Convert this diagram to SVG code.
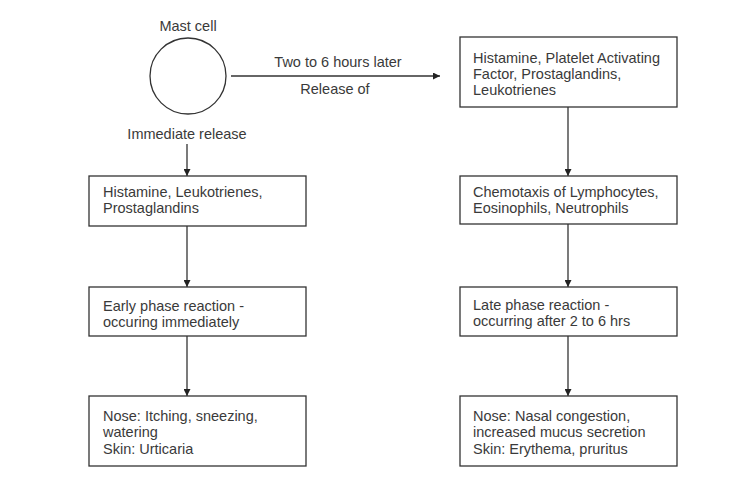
<svg xmlns="http://www.w3.org/2000/svg" width="745" height="493" viewBox="0 0 745 493">
<defs>
<style>
text{font-family:"Liberation Sans",Arial,sans-serif;font-size:14.5px;fill:#3a3a3a}
.c{text-anchor:middle}
.box{fill:#fff;stroke:#333;stroke-width:1.3}
.ln{stroke:#333;stroke-width:1.3;fill:none}
</style>
<marker id="ah" viewBox="0 0 10 10" refX="10" refY="5" markerWidth="7" markerHeight="7" markerUnits="userSpaceOnUse" orient="auto"><path d="M0,0 L10,5 L0,10 Z" fill="#222"/></marker>
</defs>
<rect width="745" height="493" fill="#fff"/>
<g id="connectors">
<line class="ln" x1="231" y1="76" x2="440" y2="76" marker-end="url(#ah)"/>
<line class="ln" x1="187" y1="144" x2="187" y2="176" marker-end="url(#ah)"/>
<line class="ln" x1="187" y1="226" x2="187" y2="287" marker-end="url(#ah)"/>
<line class="ln" x1="187" y1="336" x2="187" y2="396" marker-end="url(#ah)"/>
<line class="ln" x1="568" y1="107" x2="568" y2="176" marker-end="url(#ah)"/>
<line class="ln" x1="568" y1="224" x2="568" y2="287" marker-end="url(#ah)"/>
<line class="ln" x1="568" y1="336" x2="568" y2="396" marker-end="url(#ah)"/>
<text class="c" x="338" y="67">Two to 6 hours later</text>
<text class="c" x="335" y="94">Release of</text>
<text class="c" x="187" y="139">Immediate release</text>
</g>
<g id="mast-cell">
<text class="c" x="188" y="31">Mast cell</text>
<circle class="ln" cx="188" cy="76" r="38"/>
</g>
<g id="left-1">
<rect class="box" x="89" y="176" width="217" height="50"/>
<text x="103" y="197">Histamine, Leukotrienes,</text>
<text x="103" y="213">Prostaglandins</text>
</g>
<g id="left-2">
<rect class="box" x="89" y="287" width="217" height="49"/>
<text x="103" y="311">Early phase reaction -</text>
<text x="103" y="327">occuring immediately</text>
</g>
<g id="left-3">
<rect class="box" x="89" y="396" width="217" height="70"/>
<text x="103" y="421">Nose: Itching, sneezing,</text>
<text x="103" y="437">watering</text>
<text x="103" y="454">Skin: Urticaria</text>
</g>
<g id="right-1">
<rect class="box" x="460" y="37" width="217" height="70"/>
<text x="473" y="63">Histamine, Platelet Activating</text>
<text x="473" y="79">Factor, Prostaglandins,</text>
<text x="473" y="95">Leukotrienes</text>
</g>
<g id="right-2">
<rect class="box" x="460" y="176" width="217" height="48"/>
<text x="473" y="197">Chemotaxis of Lymphocytes,</text>
<text x="473" y="213">Eosinophils, Neutrophils</text>
</g>
<g id="right-3">
<rect class="box" x="460" y="287" width="217" height="49"/>
<text x="473" y="310">Late phase reaction -</text>
<text x="473" y="326">occurring after 2 to 6 hrs</text>
</g>
<g id="right-4">
<rect class="box" x="460" y="396" width="217" height="70"/>
<text x="473" y="421">Nose: Nasal congestion,</text>
<text x="473" y="437">increased mucus secretion</text>
<text x="473" y="454">Skin: Erythema, pruritus</text>
</g>
</svg>
